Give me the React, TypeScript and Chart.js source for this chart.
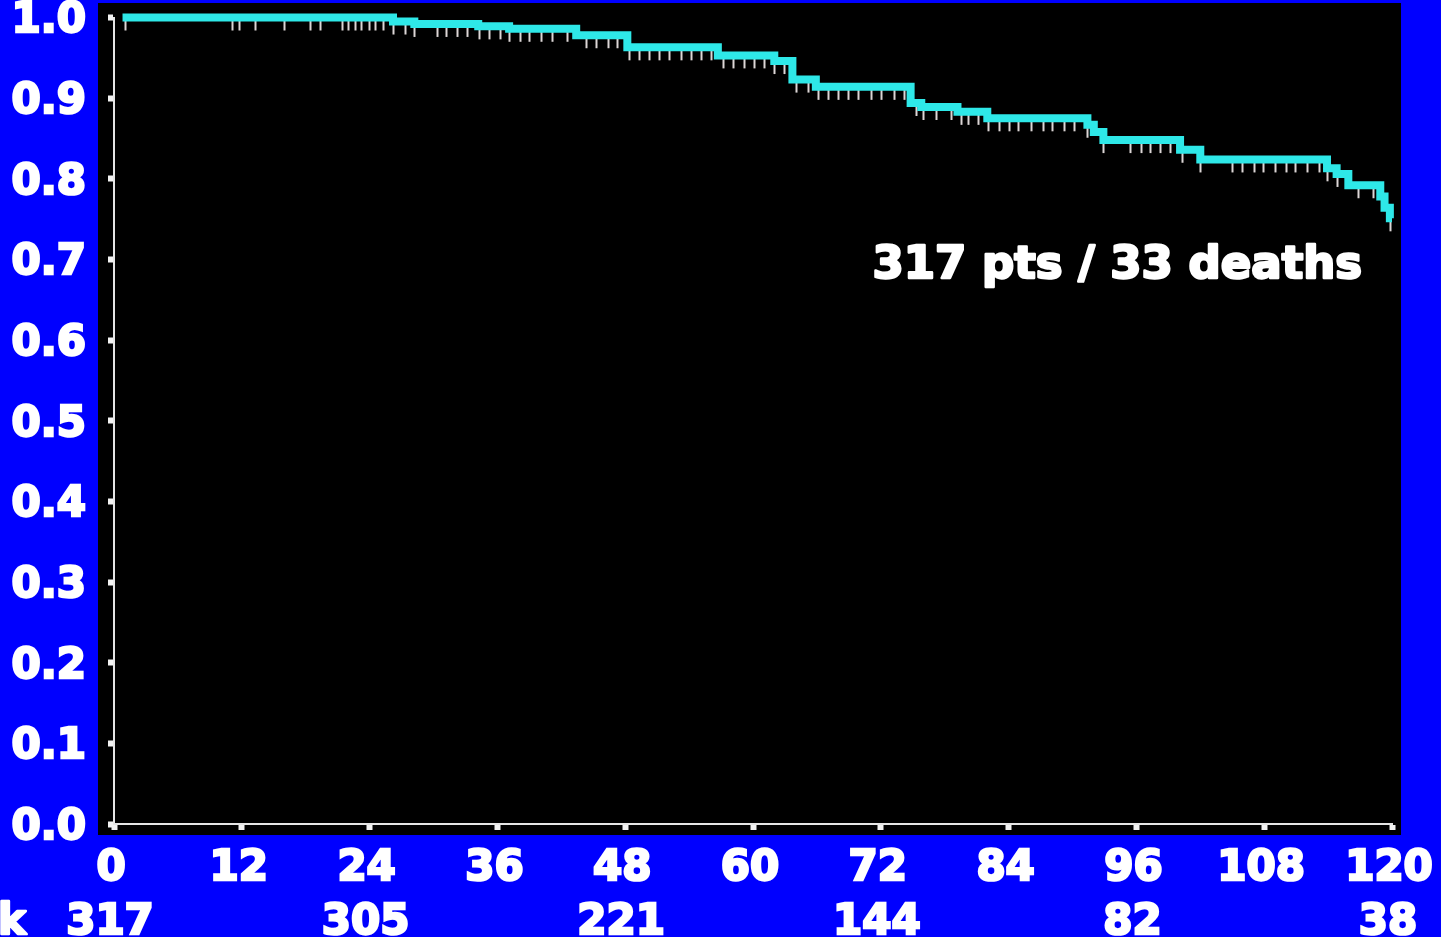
import React, { useEffect, useRef } from "react";
import { Chart, registerables } from "chart.js";

Chart.register(...registerables);

// Kaplan–Meier steps: month of each drop and survival after it
const eventMonths = [0.8, 26.2, 28.2, 34.2, 37.1, 43.4, 48.2, 56.7, 62.0, 63.7, 65.9, 74.8, 75.8, 79.2, 82.0, 91.4, 92.0, 92.9, 100.1, 102.0, 113.9, 114.8, 115.9, 118.9, 119.3, 119.8];
const survival = [1.0, 0.995, 0.992, 0.989, 0.986, 0.978, 0.963, 0.953, 0.946, 0.923, 0.914, 0.894, 0.889, 0.883, 0.875, 0.867, 0.858, 0.848, 0.836, 0.824, 0.813, 0.806, 0.792, 0.778, 0.764, 0.751];
const followUpEnd = 120;

// Censored observations (months)
const censorMonths = [1.0, 11.1, 11.7, 13.2, 16.0, 18.4, 19.3, 21.4, 22.0, 22.6, 23.2, 23.9, 24.5, 25.3, 26.2, 27.3, 28.2, 30.3, 31.2, 32.2, 33.1, 34.3, 35.2, 36.2, 37.1, 38.1, 39.0, 40.1, 41.1, 42.5, 44.3, 45.3, 46.4, 47.2, 48.4, 49.3, 50.2, 51.2, 52.1, 53.2, 54.2, 55.1, 56.1, 57.2, 58.1, 59.2, 60.1, 61.0, 62.0, 62.9, 64.0, 65.2, 66.1, 67.0, 68.0, 68.9, 69.9, 71.1, 72.0, 73.2, 74.2, 75.3, 76.0, 77.2, 78.6, 79.5, 80.2, 81.1, 82.1, 83.1, 84.0, 84.9, 86.1, 87.2, 88.1, 89.2, 90.1, 91.4, 92.9, 95.4, 96.4, 97.3, 98.2, 99.2, 100.3, 102.0, 105.0, 105.9, 107.0, 107.9, 109.0, 110.0, 110.9, 112.0, 113.1, 113.9, 114.8, 116.8, 118.2, 119.8];

// Axis ticks
const xTickStep = 12;
const yTickStep = 0.1;

// Numbers at risk
const riskMonths = [0, 24, 48, 72, 96, 120];
const riskCounts = [317, 305, 221, 144, 82, 38];
const riskTitle = "At risk";
const noteText = "317 pts / 33 deaths";

const FONT = "DejaVu Sans";
const labelFont = { family: FONT, weight: "bold" as const, size: 42, lineHeight: 1.2 };
const STROKE = 2.5;

function survivalAt(t: number): number {
  let s = survival[0];
  for (let i = 0; i < eventMonths.length; i++) {
    if (eventMonths[i] <= t) s = survival[i];
  }
  return s;
}

const panelPlugin = {
  id: "panel",
  beforeDraw(chart: any) {
    const { ctx, chartArea } = chart;
    ctx.save();
    ctx.fillStyle = "#000000";
    ctx.fillRect(chartArea.left - 16, chartArea.top - 14.5, chartArea.right - chartArea.left + 25, chartArea.bottom - chartArea.top + 25.5);
    ctx.restore();
  },
};

const censorPlugin = {
  id: "censorTicks",
  beforeDatasetsDraw(chart: any) {
    const { ctx } = chart;
    const xs = chart.scales.x;
    const ys = chart.scales.y;
    ctx.save();
    ctx.strokeStyle = "#dcd6d6";
    ctx.lineWidth = 2;
    for (const m of censorMonths) {
      const px = Math.round(xs.getPixelForValue(m)) + 0.5;
      const py = ys.getPixelForValue(survivalAt(m));
      ctx.beginPath();
      ctx.moveTo(px, py - 1);
      ctx.lineTo(px, py + 13);
      ctx.stroke();
    }
    ctx.restore();
  },
};

const textPlugin = {
  id: "notes",
  afterDraw(chart: any) {
    const { ctx, chartArea } = chart;
    const xr = chart.scales.xr;
    ctx.save();
    ctx.fillStyle = "#ffffff";
    ctx.strokeStyle = "#ffffff";
    ctx.lineWidth = STROKE;
    ctx.lineJoin = "round";
    ctx.font = `bold 45px "${FONT}"`;
    ctx.textAlign = "right";
    ctx.textBaseline = "alphabetic";
    const nx = chartArea.right - 30;
    const ny = chartArea.top + 260.5;
    ctx.strokeText(noteText, nx, ny);
    ctx.fillText(noteText, nx, ny);
    ctx.font = `bold 42px "${FONT}"`;
    ctx.textBaseline = "middle";
    const ry = xr.top + 14 + 0.6 * 42;
    ctx.strokeText(riskTitle, 26, ry);
    ctx.fillText(riskTitle, 26, ry);
    ctx.restore();
  },
};

export default function App() {
  const canvasRef = useRef<HTMLCanvasElement | null>(null);

  useEffect(() => {
    const canvas = canvasRef.current;
    if (!canvas) return;
    const points = eventMonths.map((m, i) => ({ x: m, y: survival[i] }));
    points.push({ x: followUpEnd, y: survival[survival.length - 1] });

    const axisGrid = {
      drawOnChartArea: false,
      drawTicks: true,
      tickLength: 6,
      tickWidth: 6,
      tickColor: "#f2f2f2",
    };
    const axisBorder = { display: true, color: "#e6e6e6", width: 2 };
    const tickText = {
      color: "#ffffff",
      font: labelFont,
      textStrokeColor: "#ffffff",
      textStrokeWidth: STROKE,
    };

    const chart = new Chart(canvas, {
      type: "line",
      data: {
        datasets: [
          {
            data: points,
            stepped: "before",
            borderColor: "#2ee8e8",
            borderWidth: 8,
            borderCapStyle: "butt",
            borderJoinStyle: "miter",
            pointRadius: 0,
            fill: false,
            clip: 10,
          },
        ],
      },
      options: {
        animation: false,
        responsive: false,
        devicePixelRatio: 1,
        layout: { padding: { left: 0, right: 49, top: 17.5, bottom: 0 } },
        plugins: { legend: { display: false }, tooltip: { enabled: false } },
        scales: {
          x: {
            type: "linear",
            position: "bottom",
            weight: 0,
            min: 0,
            max: 120,
            ticks: {
              ...tickText,
              stepSize: xTickStep,
              padding: 14,
              labelOffset: -3,
              autoSkip: false,
              maxRotation: 0,
            },
            grid: axisGrid,
            border: axisBorder,
            afterFit(s: any) {
              s.height = 60;
              s.paddingLeft = 0;
              s.paddingRight = 0;
            },
          },
          xr: {
            type: "linear",
            position: "bottom",
            weight: 1,
            min: 0,
            max: 120,
            afterBuildTicks(s: any) {
              s.ticks = riskMonths.map((v) => ({ value: v }));
            },
            ticks: {
              ...tickText,
              padding: 14,
              labelOffset: -4,
              autoSkip: false,
              maxRotation: 0,
              callback: (_v: any, i: number) => String(riskCounts[i]),
            },
            grid: { display: false, drawTicks: false, drawOnChartArea: false },
            border: { display: false },
            afterFit(s: any) {
              s.height = 53;
              s.paddingLeft = 0;
              s.paddingRight = 0;
            },
          },
          y: {
            type: "linear",
            min: 0,
            max: 1,
            ticks: {
              ...tickText,
              stepSize: yTickStep,
              padding: 22,
              labelOffset: 4,
              callback: (v: any) => Number(v).toFixed(1),
            },
            grid: axisGrid,
            border: axisBorder,
            afterFit(s: any) {
              s.width = 114;
              s.paddingTop = 0;
              s.paddingBottom = 0;
            },
          },
        },
      },
      plugins: [panelPlugin, censorPlugin, textPlugin],
    } as any);

    return () => chart.destroy();
  }, []);

  return (
    <div
      style={{
        position: "fixed",
        left: 0,
        top: 0,
        width: 1441,
        height: 937,
        background: "#0000ff",
        overflow: "hidden",
      }}
    >
      <canvas ref={canvasRef} width={1441} height={937} style={{ display: "block" }} />
    </div>
  );
}
